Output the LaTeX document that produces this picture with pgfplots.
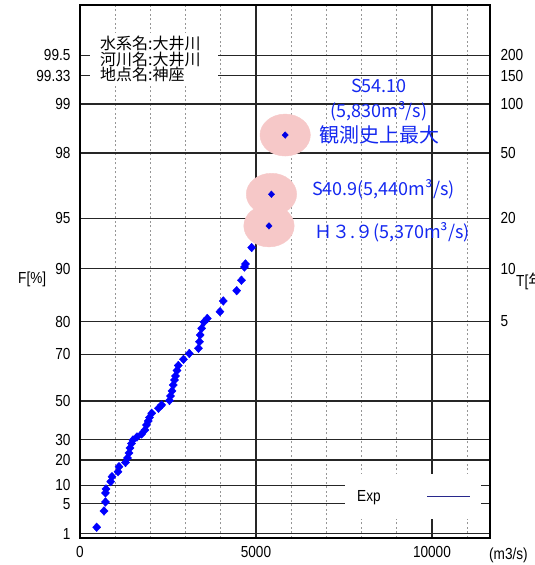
\documentclass[border=0pt]{standalone}
\usepackage{fontspec}
\setmainfont{Liberation Sans}
\newfontfamily\narrowfont[FakeStretch=0.85]{Liberation Sans}
\newfontfamily\jpfont{Noto Sans CJK JP}
\usepackage{pgfplots}
\pgfplotsset{compat=1.18}
\usepackage{pgfplotstable}
\definecolor{annblue}{RGB}{20,40,240}
\definecolor{ptblue}{RGB}{0,0,255}
\definecolor{hlpink}{RGB}{246,200,200}
\definecolor{expnavy}{RGB}{40,40,140}
\definecolor{dotgray}{RGB}{150,150,150}

% annual maximum discharge Q (m3/s) and non-exceedance probability F (%)
\pgfplotstableread{
Q F
474 1.51
682 3.60
724 5.37
724 7.65
739 8.82
872 11.21
909 13.03
1080 14.98
1108 17.07
1293 18.92
1349 20.97
1392 23.36
1420 25.82
1463 28.08
1506 29.88
1619 31.44
1753 33.00
1847 35.10
1889 37.71
1940 39.80
1974 41.63
2037 43.81
2230 46.36
2321 48.03
2543 50.26
2571 52.45
2614 54.86
2651 57.60
2685 59.82
2713 61.55
2756 63.86
2793 65.86
2940 68.21
3105 70.33
3366 72.12
3395 74.26
3415 76.31
3457 78.20
3523 79.88
3616 80.76
3977 82.37
4071 84.66
4452 86.61
4588 88.35
4673 90.25
4702 90.64
4878 92.52
}\obsdata

\pgfplotstableread{
Q F
5370 94.45
5440 96.43
5830 98.45
}\topdata

\begin{document}
\begin{tikzpicture}[x=1pt,y=1pt]
\begin{axis}[
  set layers,
  at={(80pt,27pt)}, anchor=south west,
  scale only axis, width=410pt, height=533pt,
  xmin=0, xmax=11650, ymin=-1.5865, ymax=6.012,
  xtick={0,5000,10000}, xticklabels={0,5000,10000},
  minor xtick={1000,2000,3000,4000,6000,7000,8000,9000,11000},
  ytick={-1.5272,-1.0972,-0.8340,-0.4759,-0.1856,0.3665,1.0309,1.4999,2.2504,2.9702,3.9019,4.6001,5.0023,5.2958},
  yticklabels={1,5,10,20,30,50,70,80,90,95,98,99,99.33,99.5},
  xmajorgrids, ymajorgrids, xminorgrids,
  major grid style={black!85, line width=1.2pt},
  minor grid style={dotgray, line width=0.9pt, dash pattern=on 2pt off 2.5pt},
  major tick length=0pt, minor tick length=0pt,
  axis line style={black, line width=1.3pt},
  tick label style={font=\narrowfont\fontsize{16}{16}\selectfont},
  xticklabel style={yshift=-5pt},
  yticklabel style={xshift=-6pt},
  scaled x ticks=false,
  /pgf/number format/assume math mode=true,
  legend style={at={(0.6463,0.1201)}, anchor=north west, draw=none, fill=white,
    inner xsep=10pt, inner ysep=14pt,
    font=\narrowfont\fontsize{16}{16}\selectfont,
    /tikz/every odd column/.append style={column sep=44pt}},
  legend plot pos=right,
  legend image code/.code={\draw[#1] (0pt,0pt) -- (43pt,0pt);},
]
\addplot[on layer=axis background, only marks, mark=*, mark size=21pt, color=hlpink,
  mark options={fill=hlpink, draw=hlpink, xscale=1.2}, forget plot]
  table[x=Q, y expr={-ln(-ln(\thisrow{F}/100))}] \topdata;
\addplot[only marks, mark=diamond*, mark size=4.3pt, color=ptblue,
  mark options={xscale=1.25}, forget plot]
  table[x=Q, y expr={-ln(-ln(\thisrow{F}/100))}] \obsdata;
\addplot[only marks, mark=diamond*, mark size=3.3pt, color=ptblue!90!black,
  mark options={xscale=1.25}, forget plot]
  table[x=Q, y expr={-ln(-ln(\thisrow{F}/100))}] \topdata;
\addlegendimage{expnavy, line width=1pt}
\addlegendentry{Exp}
\end{axis}
\begin{axis}[
  at={(80pt,27pt)}, anchor=south west,
  scale only axis, width=410pt, height=533pt,
  xmin=0, xmax=11650, ymin=-1.5865, ymax=6.012,
  axis x line=none, axis y line*=right, y axis line style={draw=none},
  ytick={1.4999,2.2504,2.9702,3.9019,4.6001,5.0023,5.2958},
  yticklabels={5,10,20,50,100,150,200},
  major tick length=0pt,
  yticklabel style={font=\narrowfont\fontsize{16}{16}\selectfont, xshift=7pt},
]
\addplot[draw=none, forget plot] table[x=Q, y expr={-ln(-ln(\thisrow{F}/100))}] \topdata;
\end{axis}
% station box
\fill[white] (90,480) rectangle (218,532);
\node[anchor=north west, inner sep=0pt, align=left,
  font=\jpfont\fontsize{16}{15.5}\selectfont] at (100,529) {水系名:大井川\\河川名:大井川\\地点名:神座};
% axis captions
\node[anchor=west, inner sep=0pt, font=\narrowfont\fontsize{16}{16}\selectfont] at (18,286) {F[\%]};
\node[anchor=west, inner sep=0pt, font=\narrowfont\fontsize{16}{16}\selectfont] at (516,284) {T[{\jpfont 年}]};
\node[anchor=west, inner sep=0pt, font=\narrowfont\fontsize{16}{16}\selectfont] at (489,10) {(m3/s)};
% annotations
\node[annblue, font=\jpfont\fontsize{18}{18}\selectfont, inner sep=0pt] at (379,479) {S54.10};
\node[annblue, font=\jpfont\fontsize{18}{18}\selectfont, inner sep=0pt] at (379,454) {(5,830m³/s)};
\node[annblue, font=\jpfont\fontsize{20}{20}\selectfont, inner sep=0pt] at (379,430) {観測史上最大};
\node[annblue, anchor=west, font=\jpfont\fontsize{18}{18}\selectfont, inner sep=0pt] at (312,376) {S40.9(5,440m³/s)};
\node[annblue, anchor=west, font=\jpfont\fontsize{18}{18}\selectfont, inner sep=0pt] at (314,333) {Ｈ３.９(5,370m³/s)};
\pgfresetboundingbox
\path[use as bounding box] (0,0) rectangle (535,565);
\end{tikzpicture}
\end{document}
